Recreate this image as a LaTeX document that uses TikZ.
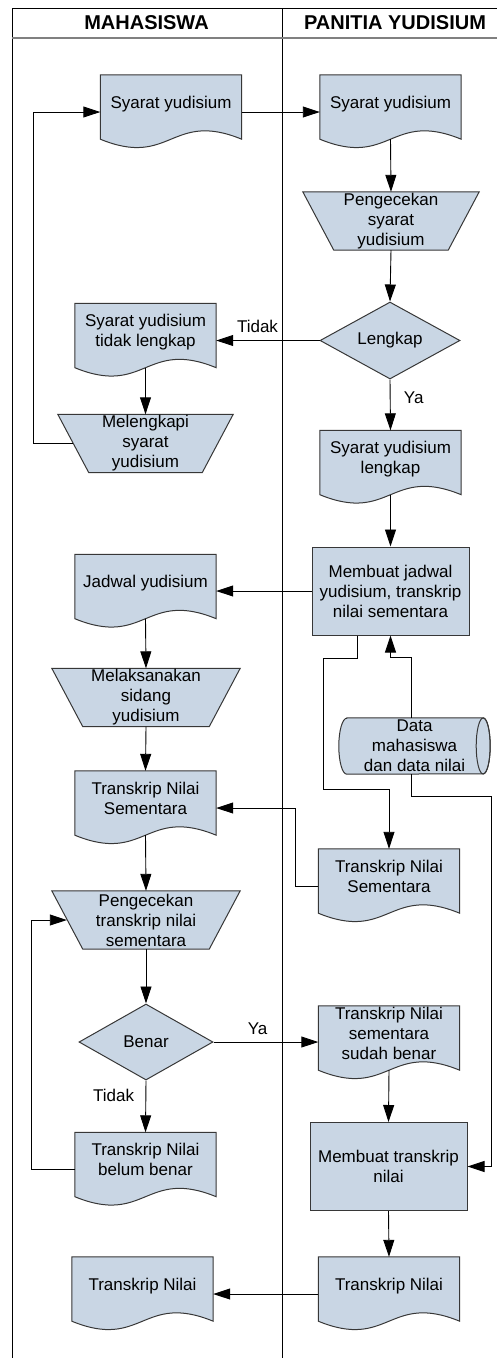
\documentclass[tikz,border=0pt]{standalone}
\usepackage{fontspec}
\setmainfont{Liberation Sans}
\usetikzlibrary{arrows.meta,shapes.geometric,backgrounds}
\definecolor{isi}{RGB}{201,214,228}
\definecolor{tepi}{RGB}{55,55,55}

\begin{document}
\begin{tikzpicture}[x=1pt, y=-1pt,
    teks/.style={font=\fontsize{17}{20}\selectfont, align=center},
    garis/.style={draw=tepi, line width=1pt},
    dokumen/.style={teks, minimum width=141pt, minimum height=64pt, inner ysep=0pt, text depth=10pt},
    manual/.style={teks, minimum height=58pt, inner ysep=0pt},
    proses/.style={teks, garis, fill=isi, minimum width=157pt, minimum height=88pt},
    keputusan/.style={teks, garis, fill=isi, diamond, aspect=2, minimum width=140pt, minimum height=77pt},
    simpan/.style={teks, minimum width=151pt, minimum height=56pt, inner sep=0pt},
    alur/.style={-{Triangle[length=17pt, width=11pt]}, line width=0.9pt},
    ket/.style={font=\fontsize{17}{20}\selectfont},
    kolom/.style={font=\bfseries\fontsize{20}{24}\selectfont}
]
        \useasboundingbox (0, 0) rectangle (497, 1358);

        \draw[line width=0.9pt] (12, 1358) -- (12, 8) -- (497, 8);
        \draw[line width=0.9pt] (282, 8) -- (282, 1358);
        \draw[line width=1.2pt, color=gray] (12, 38) -- (497, 38);
        \node[kolom] (mhs) at (146.5, 23) {MAHASISWA};
        \node[kolom] (pan) at (395, 23) {PANITIA YUDISIUM};

        \node[dokumen] (syr1) at (171, 107) {Syarat yudisium};
        \node[dokumen] (syr2) at (390.5, 107) {Syarat yudisium};
        \node[manual, minimum width=176pt] (cek1) at (391, 221) {Pengecekan\\syarat\\yudisium};
        \node[keputusan] (lkp) at (390, 340.5) {Lengkap};
        \node[dokumen] (stl) at (145.5, 335.5) {Syarat yudisium\\tidak lengkap};
        \node[manual, minimum width=175pt] (mel) at (145.5, 443.5) {Melengkapi\\syarat\\yudisium};
        \node[dokumen] (sl) at (390.5, 462.5) {Syarat yudisium\\lengkap};
        \node[proses] (mj) at (390.5, 591) {Membuat jadwal\\yudisium, transkrip\\nilai sementara};
        \node[dokumen] (jdw) at (145.5, 586.5) {Jadwal yudisium};
        \node[manual, minimum width=188pt] (lak) at (146, 697.5) {Melaksanakan\\sidang\\yudisium};
        \node[simpan] (data) at (414.5, 746) {Data\\mahasiswa\\dan data nilai};
        \node[dokumen] (tns1) at (145.5, 803) {Transkrip Nilai\\Sementara};
        \node[dokumen] (tns2) at (389, 881) {Transkrip Nilai\\Sementara};
        \node[manual, minimum width=188pt] (cek2) at (146, 920) {Pengecekan\\transkrip nilai\\sementara};
        \node[keputusan, minimum width=134pt, minimum height=76pt] (bnr) at (146, 1042) {Benar};
        \node[dokumen] (tsb) at (389, 1038) {Transkrip Nilai\\sementara\\sudah benar};
        \node[proses] (mt) at (388.5, 1166.5) {Membuat transkrip\\nilai};
        \node[dokumen] (tbb) at (145.5, 1164.5) {Transkrip Nilai\\belum benar};
        \node[dokumen] (tn2) at (389, 1289) {Transkrip Nilai};
        \node[dokumen] (tn1) at (142.5, 1289) {Transkrip Nilai};

        \begin{scope}[on background layer]
            \foreach \n in {syr1, syr2, stl, sl, jdw, tns1, tns2, tsb, tbb, tn1, tn2}
                \draw[garis, fill=isi] (\n.south west) -- (\n.north west) -- (\n.north east) -- (\n.south east)
                    .. controls ([yshift=29pt]\n.south) and ([yshift=-29pt]\n.south) .. (\n.south west) -- cycle;
            \foreach \n in {cek1, mel, lak, cek2}
                \draw[garis, fill=isi] (\n.north west) -- (\n.north east) -- ([xshift=-31pt]\n.south east)
                    -- ([xshift=31pt]\n.south west) -- cycle;
            \draw[garis, fill=isi] ([xshift=8pt]data.north west) -- ([xshift=-7pt]data.north east)
                arc[start angle=90, end angle=-90, x radius=7pt, y radius=28pt]
                -- ([xshift=8pt]data.south west)
                arc[start angle=270, end angle=90, x radius=8pt, y radius=28pt] -- cycle;
            \draw[garis] ([xshift=-7pt]data.east) ellipse[x radius=7pt, y radius=28pt];
        \end{scope}

        \draw[alur] ([yshift=-5pt]syr1.east) -- ([yshift=-5pt]syr2.west);
        \draw[alur] (syr2.south) -- (cek1.north);
        \draw[alur] (cek1.south) -- (lkp.north);
        \draw[alur] (lkp.west) -- (lkp.west -| stl.east) node[ket, pos=0.6, above=4pt] (t1) {Tidak};
        \draw[alur] (stl.south) -- (mel.north);
        \draw[alur] ([xshift=15pt]mel.west) -- ++(-39, 0) |- ([yshift=-5pt]syr1.west);
        \draw[alur] (lkp.south) -- (sl.north) node[ket, pos=0.35, right=10pt] (y1) {Ya};
        \draw[alur] (sl.south) -- (mj.north);
        \draw[alur] (mj.west) -- (mj.west -| jdw.east);
        \draw[alur] (jdw.south) -- (lak.north);
        \draw[alur] (lak.south) -- (tns1.north);
        \draw[alur] ([xshift=-3.5pt]data.north) -- ++(0, -60) -| (mj.south);
        \draw[alur] ([xshift=-33.5pt]mj.south) -- ++(0, 23) -- ++(-34, 0) -- ++(0, 131) -| (tns2.north);
        \draw[alur] ([xshift=-3.5pt]data.south) -- ++(0, 22) -| ([xshift=24pt]mt.east) -- (mt.east);
        \draw[alur] ([yshift=-5pt]tns2.west) -- ++(-23, 0) |- ([yshift=-5pt]tns1.east);
        \draw[alur] (tns1.south) -- (cek2.north);
        \draw[alur] (cek2.south) -- (bnr.north);
        \draw[alur] (bnr.east) -- (bnr.east -| tsb.west) node[ket, pos=0.42, above=4pt] (y2) {Ya};
        \draw[alur] (bnr.south) -- (tbb.north) node[ket, pos=0.29, left=8pt] (t2) {Tidak};
        \draw[alur] ([yshift=-5pt]tbb.west) -- ++(-43, 0) |- ([xshift=15pt]cek2.west);
        \draw[alur] (tsb.south) -- (mt.north);
        \draw[alur] (mt.south) -- (tn2.north);
        \draw[alur] ([yshift=-5pt]tn2.west) -- ([yshift=-5pt]tn2.west -| tn1.east);
\end{tikzpicture}
\end{document}
